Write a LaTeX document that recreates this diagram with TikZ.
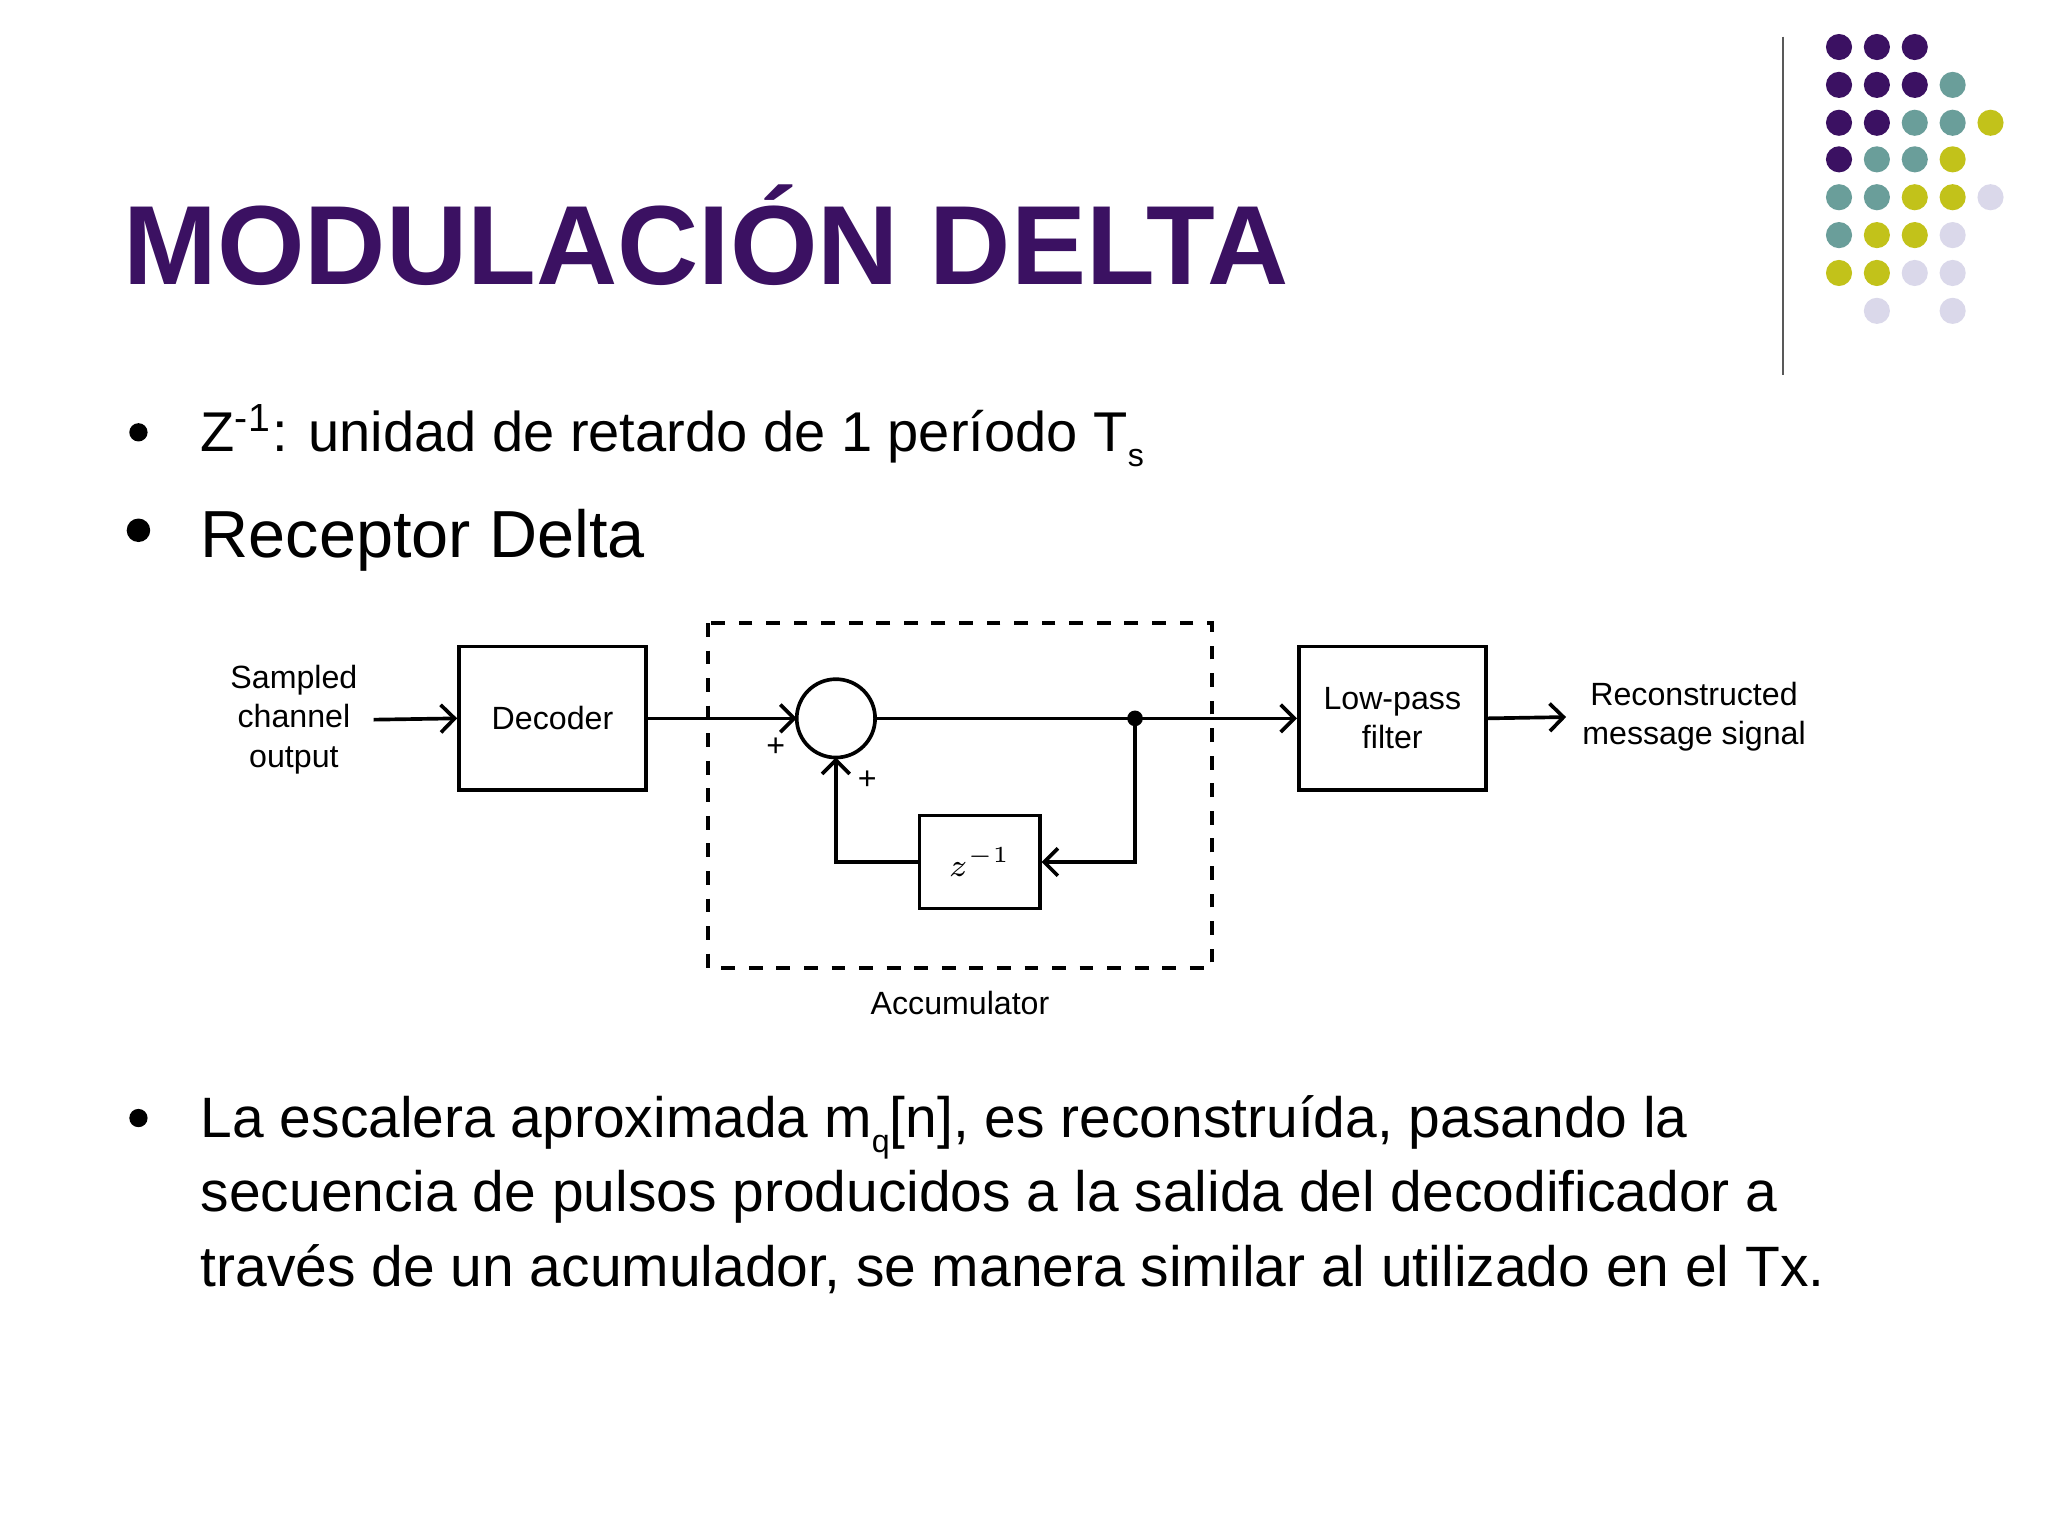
\documentclass[tikz,border=0pt]{standalone}
\usepackage{fontspec}
\setmainfont{Liberation Sans}
\usetikzlibrary{arrows.meta}
\definecolor{pp}{HTML}{3B1162}
\definecolor{tt}{HTML}{6A9E9A}
\definecolor{yy}{HTML}{C2C21A}
\definecolor{ll}{HTML}{DAD8EA}
\tikzset{blk/.style={draw,thick,inner sep=0},
 lab/.style={font=\fontsize{7}{8.5}\selectfont,align=center},
 arr/.style={thick,-{Straight Barb[length=3pt]}}}
\begin{document}
\begin{tikzpicture}[x=0.01cm,y=-0.01cm]
\useasboundingbox (0,0) rectangle (1568,1176);
\fill[white] (0,0) rectangle (1568,1176);
% dots
\foreach \r/\cols in {36/{pp,pp,pp},65/{pp,pp,pp,tt},94/{pp,pp,tt,tt,yy},122/{pp,tt,tt,yy},151/{tt,tt,yy,yy,ll},180/{tt,yy,yy,ll},209/{yy,yy,ll,ll}}{
 \foreach \c [count=\i from 0] in \cols { \fill[\c] (1408+29*\i,\r) circle (10); }}
\fill[ll] (1437,238) circle (10); \fill[ll] (1495,238) circle (10);
\draw[gray!70!black] (1365,28) -- (1365,287);
\node[anchor=base west,text=pp,font=\fontsize{24.5}{30}\selectfont\bfseries,inner sep=0] (title) at (94,218) {MODULACIÓN DELTA};
\fill (106,331) circle (7); \fill (106,406) circle (9); \fill (106,856) circle (7);
\node[anchor=base west,inner sep=0,font=\fontsize{12.2}{14}\selectfont] (b1) at (153,346) {Z\textsuperscript{-1}: unidad de retardo de 1 período T\raisebox{-0.5ex}{\scriptsize s}};
\node[anchor=base west,inner sep=0,font=\fontsize{14.5}{17}\selectfont] (b2) at (153,427) {Receptor Delta};
\node[anchor=north west,inner sep=0,align=left,font=\fontsize{12.4}{16.2}\selectfont] (b3) at (153,838) {La escalera aproximada m\raisebox{-0.5ex}{\scriptsize q}[n], es reconstruída, pasando la\\secuencia de pulsos producidos a la salida del decodificador a\\través de un acumulador, se manera similar al utilizado en el Tx.};
% diagram
\node[blk,minimum width=1.43cm,minimum height=1.1cm,lab] (dec) at (423,550) {Decoder};
\node[blk,minimum width=1.43cm,minimum height=1.1cm,lab] (lpf) at (1066,550) {Low-pass\\filter};
\node[blk,minimum width=0.92cm,minimum height=0.71cm,lab] (z) at (750,660) {$z^{-1}$};
\draw[thick] (640,550) circle (30);
\draw[dashed,thick] (542,477) rectangle (928,741);
\node[lab] (acc) at (735,768) {Accumulator};
\node[lab] (in) at (225,551) {Sampled\\channel\\output};
\node[lab] (out) at (1297,549) {Reconstructed\\message signal};
\draw[arr] (in.east) -- (dec.west);
\draw[arr] (dec.east) -- (610,550);
\draw[arr] (670,550) -- (lpf.west);
\fill (869,550) circle (6); \coordinate (j) at (869,550);
\draw[arr] (j) |- (z.east);
\draw[arr] (z.west) -| (640,580);
\draw[arr] (lpf.east) -- (out.west);
\node[lab] (p1) at (594,572) {+};
\node[lab] (p2) at (664,597) {+};
\end{tikzpicture}
\end{document}
